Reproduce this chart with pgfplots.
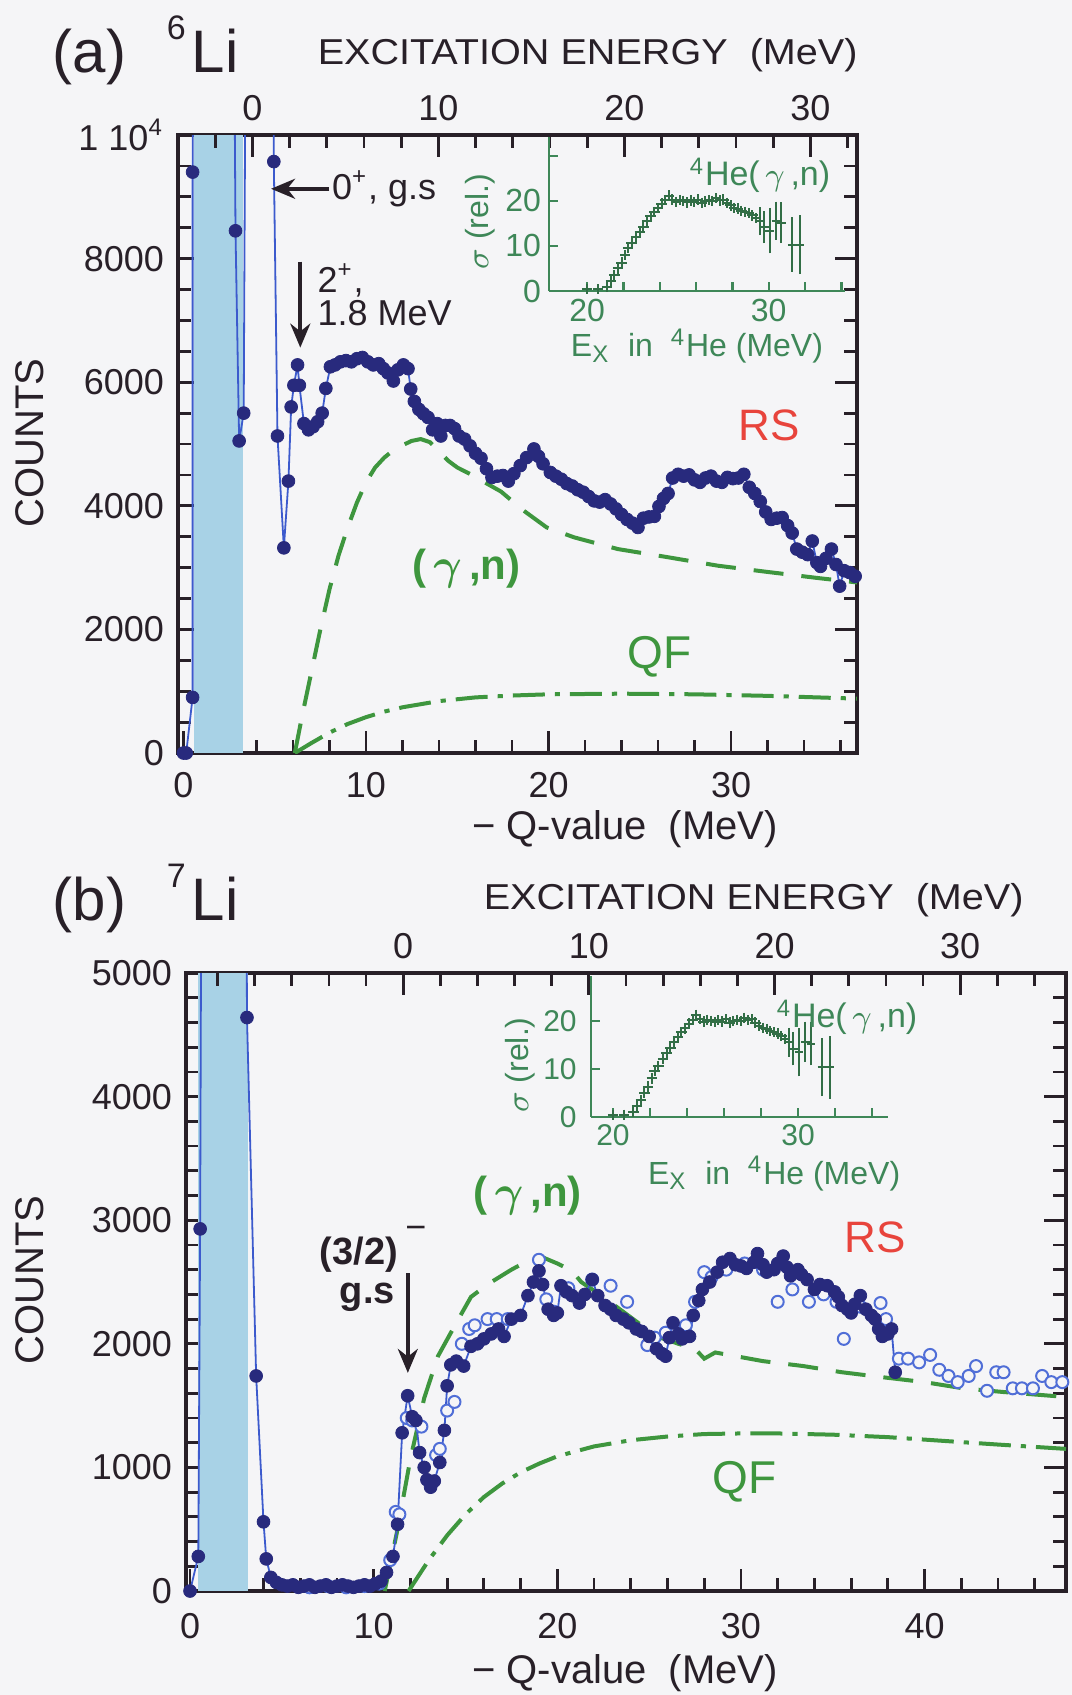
\documentclass[border=0pt]{standalone}
\usepackage{fontspec}
\setmainfont{Liberation Sans}
\usepackage{bm}
\usepackage{pgfplots}
\usepackage{pgfplotstable}
\pgfplotsset{compat=1.18}
\usetikzlibrary{arrows.meta}

\definecolor{paper}{RGB}{245,245,247}
\definecolor{navy}{RGB}{40,42,125}
\definecolor{bline}{RGB}{60,90,205}
\definecolor{oblue}{RGB}{80,110,215}
\definecolor{shade}{RGB}{168,210,230}
\definecolor{gdash}{RGB}{62,150,62}
\definecolor{ginset}{RGB}{62,135,88}
\definecolor{gdata}{RGB}{50,110,70}
\definecolor{rsred}{RGB}{232,68,60}
\definecolor{ink}{RGB}{40,32,40}

\pgfplotsset{
  mainax/.style={scale only axis, anchor=south west,
    axis line style={ink, line width=0.8pt},
    tick style={ink, line width=0.7pt},
    tick align=inside, major tick length=5.5pt, minor tick length=3.2pt,
    ymin=0, scaled ticks=false,
    ticklabel style={font=\fontsize{9}{10}\selectfont, text=ink}},
  topax/.style={scale only axis, anchor=south west, ymin=0, ymax=1,
    axis x line*=top, axis y line=none,
    tick style={ink, line width=0.7pt}, axis line style={draw=none},
    tick align=inside, major tick length=5.5pt, minor tick length=3.2pt,
    ticklabel style={font=\fontsize{9}{10}\selectfont, text=ink}},
  inax/.style={scale only axis, anchor=south west, ymin=0,
    axis lines*=left, axis line style={ginset, line width=0.6pt},
    tick style={ginset, line width=0.6pt}, tick align=inside,
    major tick length=2.2pt, clip=false,
    ticklabel style={font=\fontsize{7.5}{8}\selectfont, text=ginset},
    xtick={20,22,...,34}, xticklabels={20,,,,,30,,},
    xticklabel style={yshift=1.5pt}},
  dashgn/.style={gdash, line width=1pt, dash pattern=on 7.5pt off 4.5pt},
  dashqf/.style={gdash, line width=1pt, dash pattern=on 8pt off 2.5pt on 1.3pt off 2.5pt},
}

\pgfplotstableread{
x y
0 0
0.15 0
0.5 900
0.5 9400
1.7 60000
2.85 8450
3.05 5050
3.3 5500
4.2 60000
4.95 9570
5.15 5130
5.5 3320
5.75 4400
5.9 5600
6.05 5950
6.25 6280
6.35 5950
6.6 5330
6.85 5230
7.1 5280
7.35 5360
7.6 5500
7.8 5900
8.05 6250
8.3 6280
8.6 6330
8.9 6350
9.2 6330
9.5 6380
9.8 6400
10.1 6330
10.4 6280
10.7 6300
10.95 6220
11.2 6150
11.5 6020
11.75 6200
12.05 6280
12.3 6220
12.45 5890
12.65 5690
12.9 5560
13.15 5490
13.4 5430
13.65 5230
13.9 5330
14.1 5130
14.35 5300
14.6 5300
14.85 5250
15.1 5130
15.4 5080
15.7 4970
16.0 4850
16.3 4770
16.6 4600
16.9 4460
17.2 4480
17.5 4490
17.8 4400
18.1 4520
18.45 4650
18.8 4780
19.2 4920
19.45 4800
19.7 4680
20.1 4540
20.4 4480
20.7 4430
21.0 4360
21.3 4320
21.6 4260
21.9 4220
22.2 4150
22.5 4080
22.8 4060
23.1 4100
23.4 4030
23.7 3950
24.0 3860
24.3 3780
24.6 3720
24.9 3650
25.2 3800
25.5 3820
25.8 3830
26.05 3990
26.3 4120
26.55 4200
26.8 4450
27.1 4510
27.4 4480
27.7 4500
28.0 4420
28.3 4380
28.6 4450
28.9 4480
29.2 4400
29.5 4380
29.8 4460
30.1 4440
30.4 4450
30.7 4510
31.0 4300
31.3 4200
31.6 4070
31.9 3900
32.2 3780
32.5 3800
32.8 3810
33.1 3680
33.35 3560
33.6 3300
33.9 3250
34.2 3210
34.45 3430
34.7 3080
34.9 3020
35.2 3150
35.5 3300
35.75 3050
35.95 2700
36.2 2950
36.5 2920
36.8 2860
}\dataA

\pgfplotstableread{
x y
0 0
0.45 280
0.55 2930
1.8 60000
3.1 4640
3.6 1740
4.0 560
4.15 260
4.4 110
4.7 70
5.0 50
5.3 40
5.6 50
5.9 30
6.2 40
6.5 50
6.8 30
7.1 40
7.4 50
7.7 30
8.0 40
8.3 50
8.6 40
8.9 30
9.2 40
9.5 50
9.8 40
10.1 60
10.4 80
10.7 150
11.05 280
11.3 540
11.55 1280
11.85 1580
12.1 1410
12.3 1380
12.5 1120
12.75 1000
12.9 900
13.1 840
13.3 890
13.6 1040
13.85 1300
14.0 1660
14.2 1830
14.5 1860
14.9 1820
15.3 1980
15.65 2000
16.0 2040
16.4 2080
16.8 2120
17.1 2060
17.5 2200
18.0 2230
18.4 2390
18.7 2500
19.0 2590
19.2 2480
19.5 2280
19.8 2230
20.0 2250
20.2 2470
20.5 2420
20.8 2390
21.2 2330
21.5 2400
21.9 2520
22.2 2390
22.6 2310
22.9 2280
23.2 2230
23.6 2200
23.9 2170
24.3 2120
24.6 2100
25.0 2060
25.4 1960
25.7 1920
25.9 1900
26.1 2050
26.3 2170
26.6 2080
26.8 2040
27.2 2060
27.4 2230
27.7 2350
27.9 2440
28.3 2500
28.7 2580
29.0 2660
29.4 2690
29.7 2640
30.0 2630
30.3 2610
30.7 2660
30.9 2730
31.2 2640
31.4 2580
31.8 2600
32.0 2650
32.3 2710
32.5 2620
32.7 2550
33.1 2600
33.3 2560
33.6 2520
34.0 2440
34.3 2480
34.7 2470
35.1 2420
35.3 2380
35.5 2310
35.8 2280
36.0 2250
36.2 2320
36.5 2390
36.8 2280
37.1 2230
37.3 2200
37.5 2120
37.7 2060
38.0 2080
38.2 2120
38.4 1770
}\dataB

\pgfplotstableread{
x y
6.5 30
7.5 40
8.5 30
9.5 40
10.3 60
10.9 250
11.2 640
11.4 620
11.8 1400
12.1 1380
12.6 1330
13.4 1100
13.6 1150
14.0 1460
14.4 1530
14.8 2000
15.2 2120
15.5 2150
16.2 2200
16.7 2200
17.3 2200
19.0 2680
19.4 2360
19.8 2260
20.6 2450
21.9 2520
22.9 2470
23.8 2340
24.9 1990
25.3 2050
25.9 2090
27.0 2150
27.5 2340
28.0 2580
28.4 2540
29.2 2600
30.2 2650
31.2 2600
32.0 2340
32.8 2440
33.7 2340
34.5 2400
35.2 2340
35.6 2040
36.5 2300
37.6 2330
37.9 2200
38.6 1880
39.1 1880
39.7 1850
40.3 1910
40.8 1790
41.3 1740
41.8 1690
42.4 1740
42.8 1820
43.4 1620
43.9 1770
44.3 1770
44.8 1640
45.3 1640
45.9 1640
46.4 1740
46.9 1690
47.5 1690
}\dataBopen

\pgfplotstableread{
x y
20.0 0.4
20.6 0.4
21.1 1.0
21.3 2.2
21.5 3.5
21.7 5.0
21.9 6.3
22.1 8.0
22.25 9.5
22.45 10.6
22.7 12.0
22.9 13.2
23.1 14.3
23.3 15.6
23.5 16.6
23.7 17.6
23.9 18.4
24.1 19.4
24.3 20.2
24.5 21.2
24.7 20.3
24.9 19.8
25.1 20.2
25.3 20.0
25.5 19.7
25.7 20.1
25.9 19.8
26.1 20.3
26.3 19.6
26.5 19.9
26.7 20.2
26.9 20.0
27.1 20.6
27.3 20.1
27.5 20.3
27.7 19.6
27.9 19.0
28.1 18.5
28.3 18.3
28.5 17.8
28.7 17.6
28.9 17.3
29.1 16.8
29.3 16.2
}\heData

\begin{document}
\begin{tikzpicture}
\fill[paper] (0pt,0pt) rectangle (268pt,-423.75pt);
\useasboundingbox (0pt,0pt) rectangle (268pt,-423.75pt);

%================ PANEL (a) =================
\begin{axis}[mainax, at={(44.5pt,-188.25pt)}, width=169.75pt, height=154.5pt,
  xmin=-0.3, xmax=36.9, ymax=10000,
  xtick={0,10,20,30}, xticklabels={0,10,20,30}, minor xtick={2,4,...,36},
  xtick pos=left, xticklabel style={yshift=-1.3pt},
  ytick={0,2000,4000,6000,8000,10000},
  yticklabels={0,2000,4000,6000,8000,{1 10\textsuperscript{4}}},
  minor ytick={500,1000,...,9500}, ytick pos=both, yticklabel pos=left]
\addplot[fill=shade, draw=none] coordinates {(0.6,10000) (3.25,10000)} \closedcycle;
\addplot[dashqf] coordinates {(6.1,0) (7,160) (8,330) (9,470) (10,580) (11,670) (12,740) (14,840) (16,900) (18,930) (20,950) (24,960) (28,950) (32,925) (36.9,880)};
\addplot[dashgn] coordinates {(6.1,0) (6.5,600) (7,1300) (7.5,2000) (8,2650) (8.5,3200) (9,3650) (9.5,4050) (10,4380) (10.5,4620) (11,4780) (11.5,4900) (12,4980) (12.5,5050) (13,5080) (13.5,5030) (14,4880) (14.5,4730) (15,4620) (15.8,4500) (16.5,4380) (17.4,4230) (18,4080) (18.6,3930) (19.9,3650) (21.4,3490) (23.8,3300) (26.5,3170) (29.3,3030) (32,2930) (34.8,2830) (36.9,2760)};
\addplot[bline, line width=0.45pt] table {\dataA};
\addplot[only marks, mark=*, mark size=1.6pt, mark options={draw=navy, fill=navy, line width=0.2pt}, restrict y to domain=-1:10001] table {\dataA};
% annotations
\draw[ink, line width=0.9pt, -{Stealth[length=6pt,width=5pt]}] (axis cs:8.0,9130) -- (axis cs:4.8,9130);
\node[anchor=west, inner sep=0pt, font=\fontsize{9}{10}\selectfont, text=ink] at (axis cs:8.1,9130) {0\textsuperscript{+}, g.s};
\draw[ink, line width=0.9pt, -{Stealth[length=6pt,width=5pt]}] (axis cs:6.4,7950) -- (axis cs:6.4,6560);
\node[anchor=west, inner sep=0pt, font=\fontsize{9}{10}\selectfont, text=ink] at (axis cs:7.3,7650) {2\textsuperscript{+},};
\node[anchor=west, inner sep=0pt, font=\fontsize{9}{10}\selectfont, text=ink] at (axis cs:7.3,7120) {1.8 MeV};
\node[font=\fontsize{11}{12}\selectfont, text=rsred] at (axis cs:32.1,5300) {RS};
\node[font=\fontsize{10.5}{12}\selectfont\bfseries, text=gdash] at (axis cs:15.5,2980) {(\,$\bm{\gamma}$\,,n)};
\node[font=\fontsize{11.5}{12}\selectfont, text=gdash] at (axis cs:26.1,1550) {QF};
\end{axis}

\begin{axis}[topax, at={(44.5pt,-188.25pt)}, width=169.75pt, height=154.5pt,
  xmin=-4.0, xmax=32.5, xtick={0,10,20,30}, xticklabels={0,10,20,30},
  minor xtick={-2,2,4,6,8,12,14,16,18,22,24,26,28,32}]
\addplot[draw=none] coordinates {(0,0.5)};
\end{axis}

% inset (a)
\begin{axis}[inax, at={(137.25pt,-72.75pt)}, width=74pt, height=38.5pt,
  xmin=17.9, xmax=34.2, ymax=34.2, ytick={0,10,20,30}, yticklabels={0,10,20,},
  ticklabel style={font=\fontsize{8}{9}\selectfont}, yticklabel style={xshift=1.5pt}]
\addplot[only marks, mark=+, mark size=1.3pt, mark options={gdata, line width=0.5pt}] table {\heData};
\addplot[only marks, mark=+, mark size=1.1pt, mark options={gdata, line width=0.5pt},
  error bars/.cd, y dir=both, y explicit, error bar style={gdata, line width=0.5pt}, error mark options={gdata, mark size=1.2pt, line width=0.5pt}]
  coordinates {(29.5,15.5) +- (0,2) (29.75,14.2) +- (0,2.5) (30.05,13.4) +- (0,4) (30.4,15.6) +- (0,3.2) (30.7,15.2) +- (0,3.5) (31.3,10.3) +- (0,5) (31.7,10.3) +- (0,5.5)};
\end{axis}

%================ PANEL (b) =================
\begin{axis}[mainax, at={(46.5pt,-397.75pt)}, width=220pt, height=154.5pt,
  xmin=-0.22, xmax=47.7, ymax=5000,
  xtick={0,10,20,30,40}, xticklabels={0,10,20,30,40}, minor xtick={2,4,...,46},
  xtick pos=left, xticklabel style={yshift=-2pt},
  ytick={0,1000,2000,3000,4000,5000}, yticklabels={0,1000,2000,3000,4000,5000},
  minor ytick={200,400,...,4800}, ytick pos=both, yticklabel pos=left]
\addplot[fill=shade, draw=none] coordinates {(0.45,5000) (3.15,5000)} \closedcycle;
\addplot[dashqf] coordinates {(11.9,0) (13,250) (14,450) (15,620) (16,760) (17,870) (18,960) (19,1030) (20,1090) (22,1170) (24,1220) (26,1250) (28,1270) (30,1275) (32,1275) (35,1265) (38,1245) (41,1215) (44,1185) (47.7,1150)};
\addplot[dashgn] coordinates {(10.6,0) (11.3,500) (12,1070) (12.75,1560) (13.5,1900) (14.5,2170) (15.3,2380) (16.3,2490) (17.5,2600) (18.5,2680) (19.2,2700) (20,2650) (20.8,2590) (21.3,2500) (22.4,2390) (23.4,2280) (24.4,2170) (25.4,2060) (26.6,2000) (27.5,1960) (28,1880) (28.6,1930) (31.2,1860) (33.4,1820) (35.5,1770) (37.7,1730) (40,1690) (42.1,1640) (44.3,1610) (47.7,1570)};
\addplot[only marks, mark=*, mark size=1.5pt, mark options={draw=oblue, fill=paper, line width=0.5pt}] table {\dataBopen};
\addplot[bline, line width=0.45pt] table {\dataB};
\addplot[only marks, mark=*, mark size=1.6pt, mark options={draw=navy, fill=navy, line width=0.2pt}, restrict y to domain=-1:5001] table {\dataB};
% annotations
\node[font=\fontsize{9.5}{11}\selectfont\bfseries, text=ink] at (axis cs:9.2,2720) {(3/2)};
\node[font=\fontsize{9}{11}\selectfont, text=ink] at (axis cs:12.3,2900) {−};
\node[font=\fontsize{9.5}{11}\selectfont\bfseries, text=ink] at (axis cs:9.65,2380) {g.s};
\draw[ink, line width=0.9pt, -{Stealth[length=6pt,width=5pt]}] (axis cs:11.86,2570) -- (axis cs:11.86,1765);
\node[font=\fontsize{11}{12}\selectfont, text=rsred] at (axis cs:37.3,2860) {RS};
\node[font=\fontsize{10.5}{12}\selectfont\bfseries, text=gdash] at (axis cs:18.4,3200) {(\,$\bm{\gamma}$\,,n)};
\node[font=\fontsize{11.5}{12}\selectfont, text=gdash] at (axis cs:30.2,880) {QF};
\end{axis}

\begin{axis}[topax, at={(46.5pt,-397.75pt)}, width=220pt, height=154.5pt,
  xmin=-11.7, xmax=35.7, xtick={0,10,20,30}, xticklabels={0,10,20,30},
  minor xtick={-10,-8,...,34}]
\addplot[draw=none] coordinates {(0,0.5)};
\end{axis}

% inset (b)
\begin{axis}[inax, at={(147.7pt,-279.2pt)}, width=74.25pt, height=35.2pt,
  xmin=18.8, xmax=34.85, ymax=29.3, ytick={0,10,20}, yticklabels={0,10,20}]
\addplot[only marks, mark=+, mark size=1.3pt, mark options={gdata, line width=0.5pt}] table {\heData};
\addplot[only marks, mark=+, mark size=1.1pt, mark options={gdata, line width=0.5pt},
  error bars/.cd, y dir=both, y explicit, error bar style={gdata, line width=0.5pt}, error mark options={gdata, mark size=1.2pt, line width=0.5pt}]
  coordinates {(29.5,15.5) +- (0,2) (29.75,14.2) +- (0,2.5) (30.05,13.4) +- (0,4) (30.4,15.6) +- (0,3.2) (30.7,15.2) +- (0,3.5) (31.3,10.3) +- (0,5) (31.7,10.3) +- (0,5.5)};
\end{axis}

%================ TEXT =================
\node[anchor=base west, inner sep=0pt, font=\fontsize{15}{17}\selectfont, text=ink] at (13pt,-18.1pt) {(a)};
\node[anchor=base west, inner sep=0pt, font=\fontsize{15}{17}\selectfont, text=ink] at (41.5pt,-18.1pt) {\raisebox{8.3pt}{\fontsize{8.5}{9}\selectfont 6}\hspace{1.5pt}Li};
\node[anchor=base west, inner sep=0pt, text=ink] at (79.25pt,-16.2pt) {\scalebox{1.1}[1]{\fontsize{9}{10}\selectfont EXCITATION ENERGY\ \ (MeV)}};
\node[rotate=90, font=\fontsize{10}{11}\selectfont, text=ink] at (7.5pt,-110.75pt) {COUNTS};
\node[font=\fontsize{10}{11}\selectfont, text=ink] at (156.25pt,-207.25pt) {−\ Q-value\ \ (MeV)};

\node[anchor=base west, inner sep=0pt, font=\fontsize{15}{17}\selectfont, text=ink] at (13pt,-230.1pt) {(b)};
\node[anchor=base west, inner sep=0pt, font=\fontsize{15}{17}\selectfont, text=ink] at (41.5pt,-230.1pt) {\raisebox{8.3pt}{\fontsize{8.5}{9}\selectfont 7}\hspace{1.5pt}Li};
\node[anchor=base west, inner sep=0pt, text=ink] at (120.75pt,-227.45pt) {\scalebox{1.1}[1]{\fontsize{9}{10}\selectfont EXCITATION ENERGY\ \ (MeV)}};
\node[rotate=90, font=\fontsize{10}{11}\selectfont, text=ink] at (7.5pt,-320pt) {COUNTS};
\node[font=\fontsize{10}{11}\selectfont, text=ink] at (156.25pt,-418.25pt) {−\ Q-value\ \ (MeV)};

% inset texts (a)
\node[font=\fontsize{8.5}{9}\selectfont, text=ginset] at (190pt,-43.75pt) {\textsuperscript{4}He(\,$\gamma$\,,n)};
\node[rotate=90, font=\fontsize{8}{9}\selectfont, text=ginset] at (120pt,-55.4pt) {$\sigma$ (rel.)};
\node[font=\fontsize{8}{9}\selectfont, text=ginset, inner sep=1pt] at (174.25pt,-86.5pt) {E\textsubscript{X}\ \ in\ \ \textsuperscript{4}He (MeV)};
% inset texts (b)
\node[anchor=west, inner sep=0pt, font=\fontsize{8.5}{9}\selectfont, text=ginset] at (194pt,-254.25pt) {\textsuperscript{4}He(\,$\gamma$\,,n)};
\node[rotate=90, font=\fontsize{8}{9}\selectfont, text=ginset] at (130pt,-266.25pt) {$\sigma$ (rel.)};
\node[anchor=east, font=\fontsize{8}{9}\selectfont, text=ginset, inner sep=1pt] at (226.25pt,-293.4pt) {E\textsubscript{X}\ \ in\ \ \textsuperscript{4}He (MeV)};
\end{tikzpicture}
\end{document}
